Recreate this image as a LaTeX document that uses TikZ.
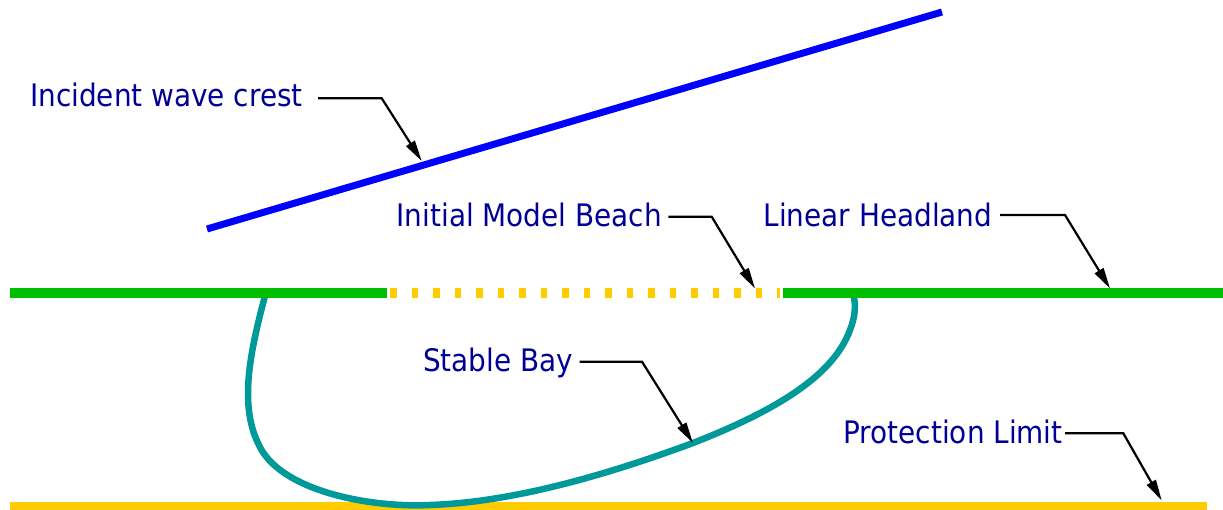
\documentclass[tikz,border=0pt]{standalone}
\usepackage{fontspec}
\setmainfont{DejaVu Sans Condensed}
\usetikzlibrary{arrows.meta}
\definecolor{crest}{RGB}{0,0,255}
\definecolor{headland}{RGB}{0,190,0}
\definecolor{sand}{RGB}{255,204,0}
\definecolor{bay}{RGB}{0,153,153}
\definecolor{labeltext}{RGB}{0,0,150}
\begin{document}
\begin{tikzpicture}[x=1pt,y=-1pt,
  lbl/.style={anchor=base west, inner sep=0pt, text=labeltext,
              font=\fontsize{31}{36}\selectfont},
  leader/.style={draw=black, line width=2.2pt,
                 -{Triangle[length=21pt,width=10pt]}},
]
\useasboundingbox (0,0) rectangle (1223,509);

% protection limit
\coordinate (limW) at (10,505.5);
\coordinate (limE) at (1207,505.5);
\draw[sand, line width=8pt] (limW) -- (limE);

% stable bay outline
\coordinate (bayW) at (265.5,294);
\coordinate (bayE) at (853,294);
\draw[bay, line width=6.5pt, line cap=round, line join=round]
  (bayW) .. controls (252,345) and (238,402) .. (258,443)
         .. controls (278,491) and (370,508) .. (430,505)
         .. controls (520,502) and (620,470) .. (693,443)
         .. controls (790,405) and (835,370) .. (850,330)
         .. controls (857,312) and (855,300) .. (bayE);

% initial beach and headlands
\coordinate (headLW) at (10,293);
\coordinate (headLE) at (387,293);
\coordinate (beachW) at (390,293);
\coordinate (beachE) at (780,293);
\coordinate (headRW) at (782.5,293);
\coordinate (headRE) at (1223,293);
\draw[headland, line width=10pt] (headLW) -- (headLE);
\draw[headland, line width=10pt] (headRW) -- (headRE);
\draw[sand, line width=10pt, dash pattern=on 6.8pt off 14.7pt] (beachW) -- (beachE);

% incident wave crest
\coordinate (crestS) at (207,229);
\coordinate (crestN) at (942,12);
\draw[crest, line width=7pt] (crestS) -- (crestN);

% labels
\node[lbl] (lcrest) at (30,106.7) {Incident wave crest};
\node[lbl] (lbeach) at (396.5,226.7) {Initial Model Beach};
\node[lbl] (lhead)  at (763.5,226) {Linear Headland};
\node[lbl] (lbay)   at (423,371.7) {Stable Bay};
\node[lbl] (llimit) at (843.5,443.3) {Protection Limit};

% leader lines
\coordinate (crestA) at (318,98.3);    \coordinate (crestB) at (381.7,98.3);  \coordinate (crestT) at (421.7,161);
\coordinate (beachA) at (668.3,216.7); \coordinate (beachB) at (711.7,216.7); \coordinate (beachT) at (755,288.5);
\coordinate (headA)  at (1000,215);    \coordinate (headB)  at (1065,215);    \coordinate (headT)  at (1110,288.5);
\coordinate (bayA)   at (579.5,361.7); \coordinate (bayB)   at (642,361.7);   \coordinate (bayT)   at (693,443);
\coordinate (limA)   at (1065,433.3);  \coordinate (limB)   at (1123.3,433.3);\coordinate (limT)   at (1161.7,500.5);

\draw[leader] (crestA) -- (crestB) -- (crestT);
\draw[leader] (beachA) -- (beachB) -- (beachT);
\draw[leader] (headA) -- (headB) -- (headT);
\draw[leader] (bayA) -- (bayB) -- (bayT);
\draw[leader] (limA) -- (limB) -- (limT);
\end{tikzpicture}
\end{document}
